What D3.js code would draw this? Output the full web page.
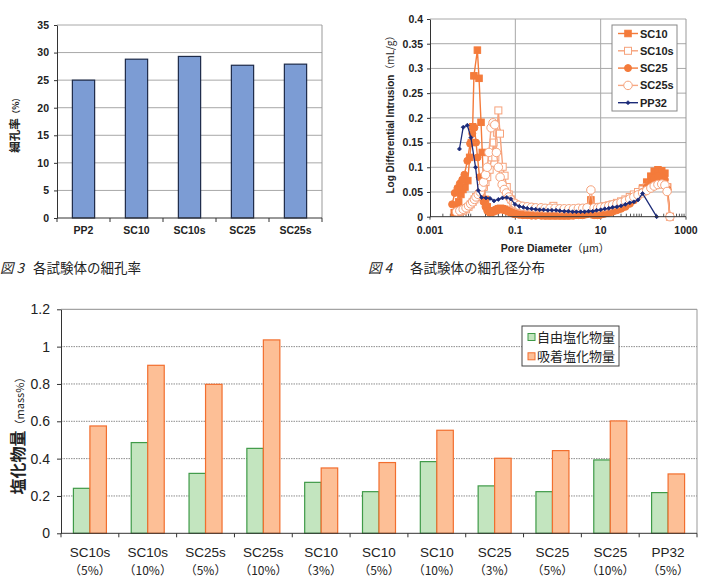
<!DOCTYPE html>
<html><head><meta charset="utf-8">
<script src="https://cdn.jsdelivr.net/npm/d3@7"></script>
<style>
body{margin:0;background:#fff;}
svg{display:block;}
text{font-family:"Liberation Sans","Noto Sans CJK JP",sans-serif;fill:#222;}
.jp{font-family:"Noto Sans CJK JP",sans-serif;}
</style></head><body>
<svg id="c" width="710" height="584"></svg>
<script>
// ---------- Data: Fig.3 porosity ----------
const porCats = ["PP2","SC10","SC10s","SC25","SC25s"];
const porValues = [25.0,28.8,29.3,27.7,27.9];
const porTicks = [0,5,10,15,20,25,30,35];

// ---------- Data: Fig.4 pore size distribution [diameter(um), value] ----------
const psdXTicks = [0.001,0.1,10,1000];
const psdXTickLabels = ["0.001","0.1","10","1000"];
const psdYTicks = [0,0.05,0.1,0.15,0.2,0.25,0.3,0.35,0.4];
const psdNames = ["SC10","SC10s","SC25","SC25s","PP32"];
const sc10 = [[0.0037,0.008],[0.0042,0.02],[0.0047,0.03],[0.0053,0.045],[0.0059,0.055],[0.0066,0.06],[0.0077,0.073],[0.0085,0.12],[0.0093,0.15],[0.01,0.182],[0.0107,0.285],[0.0129,0.337],[0.0141,0.28],[0.0157,0.191],[0.0168,0.13],[0.0183,0.061],[0.02,0.035],[0.022,0.02],[0.025,0.012],[0.028,0.01],[0.032,0.012],[0.036,0.014],[0.04,0.016],[0.045,0.017],[0.05,0.016],[0.056,0.015],[0.063,0.013],[0.071,0.011],[0.08,0.009],[0.09,0.007],[0.1,0.006],[0.12,0.005],[0.15,0.004],[0.19,0.004],[0.24,0.003],[0.3,0.003],[0.4,0.003],[0.5,0.002],[0.65,0.002],[0.85,0.002],[1.1,0.002],[1.4,0.002],[1.8,0.002],[2.3,0.003],[3,0.003],[3.8,0.004],[4.8,0.006],[5.9,0.034],[7,0.004],[8.5,0.003],[10,0.005],[12.5,0.007],[15.5,0.009],[19,0.012],[24,0.015],[30,0.019],[38,0.024],[48,0.03],[60,0.038],[75,0.047],[96,0.058],[120,0.07],[150,0.082],[180,0.092],[220,0.095],[270,0.093],[320,0.088],[370,0.06],[420,0]];
const sc10s = [[0.0045,0.008],[0.005,0.01],[0.006,0.012],[0.007,0.015],[0.008,0.02],[0.009,0.025],[0.01,0.03],[0.011,0.035],[0.012,0.04],[0.014,0.045],[0.016,0.05],[0.018,0.06],[0.02,0.07],[0.022,0.08],[0.025,0.095],[0.028,0.12],[0.031,0.15],[0.034,0.12],[0.037,0.17],[0.04,0.215],[0.0437,0.168],[0.0506,0.101],[0.056,0.083],[0.063,0.06],[0.07,0.045],[0.08,0.035],[0.09,0.028],[0.1,0.025],[0.12,0.022],[0.14,0.02],[0.17,0.019],[0.2,0.018],[0.25,0.017],[0.3,0.017],[0.4,0.016],[0.5,0.016],[0.6,0.017],[0.78,0.022],[0.9,0.016],[1.1,0.015],[1.4,0.015],[1.75,0.015],[2.2,0.015],[2.7,0.016],[3.4,0.016],[4.2,0.017],[5.2,0.018],[6.5,0.018],[8,0.019],[10,0.02],[12.5,0.021],[15.5,0.023],[19,0.025],[24,0.028],[30,0.031],[38,0.035],[48,0.04],[60,0.045],[75,0.05],[96,0.055],[120,0.06],[150,0.065],[190,0.068],[240,0.07],[300,0.068],[360,0.06],[420,0]];
const sc25 = [[0.0033,0.025],[0.0038,0.048],[0.0044,0.058],[0.005,0.067],[0.0057,0.075],[0.0064,0.085],[0.0075,0.113],[0.0087,0.148],[0.0098,0.168],[0.011,0.18],[0.012,0.15],[0.013,0.12],[0.0145,0.08],[0.016,0.05],[0.018,0.03],[0.02,0.02],[0.022,0.012],[0.025,0.008],[0.028,0.009],[0.032,0.011],[0.036,0.013],[0.04,0.014],[0.045,0.015],[0.05,0.014],[0.056,0.013],[0.063,0.012],[0.071,0.01],[0.08,0.008],[0.09,0.006],[0.1,0.005],[0.12,0.004],[0.15,0.003],[0.19,0.003],[0.24,0.002],[0.3,0.002],[0.4,0.002],[0.5,0.002],[0.65,0.002],[0.85,0.002],[1.1,0.002],[1.4,0.002],[1.8,0.002],[2.3,0.002],[3,0.003],[3.8,0.003],[4.8,0.005],[5.9,0.02],[7,0.003],[8.5,0.003],[10,0.004],[12.5,0.006],[15.5,0.008],[19,0.01],[24,0.013],[30,0.016],[38,0.02],[48,0.026],[60,0.033],[75,0.041],[96,0.05],[120,0.06],[150,0.07],[180,0.078],[220,0.082],[270,0.08],[320,0.075],[370,0.055],[420,0]];
const sc25s = [[0.0042,0.01],[0.005,0.012],[0.006,0.015],[0.007,0.018],[0.008,0.022],[0.009,0.026],[0.01,0.03],[0.011,0.035],[0.012,0.04],[0.0135,0.045],[0.015,0.05],[0.0165,0.06],[0.018,0.07],[0.02,0.085],[0.022,0.1],[0.024,0.13],[0.027,0.18],[0.03,0.19],[0.033,0.186],[0.036,0.13],[0.04,0.1],[0.044,0.08],[0.049,0.065],[0.055,0.055],[0.062,0.048],[0.07,0.04],[0.08,0.034],[0.09,0.029],[0.1,0.026],[0.12,0.023],[0.15,0.021],[0.19,0.02],[0.24,0.019],[0.3,0.018],[0.4,0.018],[0.5,0.017],[0.65,0.017],[0.85,0.017],[1.1,0.016],[1.4,0.016],[1.8,0.016],[2.3,0.016],[3,0.017],[3.8,0.017],[4.8,0.018],[5.9,0.054],[7,0.018],[8.5,0.018],[10,0.019],[12.5,0.02],[15.5,0.022],[19,0.024],[24,0.026],[30,0.029],[38,0.032],[48,0.036],[60,0.04],[75,0.044],[96,0.048],[120,0.053],[150,0.058],[180,0.062],[220,0.065],[270,0.066],[320,0.064],[360,0.051],[420,0]];
const pp32 = [[0.0049,0.137],[0.006,0.181],[0.0075,0.185],[0.0091,0.16],[0.0117,0.10],[0.0135,0.053],[0.0162,0.039],[0.0205,0.038],[0.0255,0.037],[0.0316,0.032],[0.04,0.035],[0.05,0.038],[0.063,0.039],[0.078,0.036],[0.098,0.025],[0.124,0.021],[0.154,0.019],[0.19,0.017],[0.24,0.016],[0.3,0.015],[0.37,0.014],[0.46,0.014],[0.58,0.013],[0.72,0.013],[0.9,0.013],[1.1,0.012],[1.4,0.011],[1.75,0.011],[2.2,0.010],[2.7,0.010],[3.4,0.010],[4.2,0.010],[5.2,0.011],[6.5,0.011],[8,0.013],[10,0.014],[12.5,0.016],[15.5,0.017],[19,0.019],[24,0.020],[30,0.022],[38,0.025],[48,0.028],[60,0.030],[75,0.034],[96,0.047],[205,0]];

// ---------- Data: chloride ----------
const chlCats = ["SC10s (5%)","SC10s (10%)","SC25s (5%)","SC25s (10%)","SC10 (3%)","SC10 (5%)","SC10 (10%)","SC25 (3%)","SC25 (5%)","SC25 (10%)","PP32 (5%)"];
const chlLine1 = ["SC10s","SC10s","SC25s","SC25s","SC10","SC10","SC10","SC25","SC25","SC25","PP32"];
const chlLine2 = ["（5%）","（10%）","（5%）","（10%）","（3%）","（5%）","（10%）","（3%）","（5%）","（10%）","（5%）"];
const freeCl = [0.241,0.486,0.321,0.455,0.273,0.223,0.384,0.254,0.223,0.393,0.218];
const boundCl = [0.575,0.900,0.798,1.036,0.350,0.379,0.552,0.402,0.443,0.602,0.318];
const chlTicks = [0,0.2,0.4,0.6,0.8,1,1.2];
const chlTickLabels = ["0","0.2","0.4","0.6","0.8","1","1.2"];
const chlSeries = ["自由塩化物量","吸着塩化物量"];

const svg = d3.select("#c");

// ================= Fig 3 =================
(function(){
  const L=57,R=322,T=25,B=218;
  const x = d3.scaleBand().domain(porCats).range([L,R]);
  const y = d3.scaleLinear().domain([0,35]).range([B,T]);
  const g = svg.append("g");
  g.selectAll("line.grid").data(porTicks.filter(d=>d>0)).join("line")
    .attr("x1",L).attr("x2",R).attr("y1",d=>y(d)).attr("y2",d=>y(d))
    .attr("stroke","#a8a8a8").attr("stroke-width",1);
  g.append("line").attr("x1",R).attr("x2",R).attr("y1",T).attr("y2",B).attr("stroke","#999");
  const bw = x.step()*0.42;
  g.selectAll("rect.bar").data(porCats).join("rect")
    .attr("x",d=>x(d)+x.bandwidth()/2-bw/2).attr("width",bw)
    .attr("y",(d,i)=>y(porValues[i])).attr("height",(d,i)=>B-y(porValues[i]))
    .attr("fill","#7c9cd4").attr("stroke","#1d2a48").attr("stroke-width",1.2);
  const ay = g.append("g").attr("transform",`translate(${L},0)`)
    .call(d3.axisLeft(y).tickValues(porTicks).tickSize(3).tickSizeOuter(0).tickPadding(5));
  ay.select(".domain").attr("stroke","#333");
  ay.selectAll(".tick line").attr("stroke","#333");
  ay.selectAll("text").attr("font-size",10.5).attr("font-weight","bold").attr("fill","#222");
  g.append("line").attr("x1",L).attr("x2",R).attr("y1",B).attr("y2",B).attr("stroke","#333");
  const bounds = porCats.map(d=>x(d)).concat([R]);
  g.selectAll("line.xt").data(bounds).join("line")
    .attr("x1",d=>d).attr("x2",d=>d).attr("y1",B).attr("y2",B+4).attr("stroke","#333");
  g.selectAll("text.xl").data(porCats).join("text")
    .attr("x",d=>x(d)+x.bandwidth()/2).attr("y",234).attr("text-anchor","middle")
    .attr("font-size",10.5).attr("font-weight","bold").text(d=>d);
  const t = g.append("text").attr("class","jp").attr("transform","translate(19,123) rotate(-90)")
    .attr("text-anchor","middle").attr("font-weight","bold");
  t.append("tspan").attr("font-size",11.5).text("細孔率");
  t.append("tspan").attr("font-size",8.5).text("（%）");
  const c = svg.append("text").attr("class","jp").attr("x",0).attr("y",273).attr("font-size",13.5);
  c.append("tspan").attr("font-style","italic").text("図 3");
  c.append("tspan").attr("x",33).text("各試験体の細孔率");
})();

// ================= Fig 4 =================
(function(){
  const L=430,R=686,T=19,B=216.7;
  const x = d3.scaleLog().domain([0.001,1000]).range([L,R]);
  const y = d3.scaleLinear().domain([0,0.4]).range([B,T]);
  const g = svg.append("g");
  g.selectAll("line.gy").data(psdYTicks.filter(d=>d>0)).join("line")
    .attr("x1",L).attr("x2",R).attr("y1",d=>y(d)).attr("y2",d=>y(d)).attr("stroke","#a8a8a8");
  g.selectAll("line.gx").data([0.1,10]).join("line")
    .attr("x1",d=>x(d)).attr("x2",d=>x(d)).attr("y1",T).attr("y2",B).attr("stroke","#a8a8a8");
  g.append("line").attr("x1",R).attr("x2",R).attr("y1",T).attr("y2",B).attr("stroke","#999");
  // minor ticks
  const minor = [];
  for (const dec of [0.001,0.01,0.1,1,10,100]) for (let k=2;k<=9;k++) minor.push(dec*k);
  g.selectAll("line.mt").data(minor).join("line")
    .attr("x1",d=>x(d)).attr("x2",d=>x(d)).attr("y1",B).attr("y2",B-3).attr("stroke","#555");
  g.selectAll("line.Mt").data(psdXTicks).join("line")
    .attr("x1",d=>x(d)).attr("x2",d=>x(d)).attr("y1",B).attr("y2",B+3).attr("stroke","#444");

  const styles = {
    SC10:{data:sc10,line:"#f47b3b",shape:"square",fill:"#f47b3b",stroke:"#f47b3b",size:6.5},
    SC10s:{data:sc10s,line:"#f6a27b",shape:"square",fill:"#fff",stroke:"#f6a27b",size:7},
    SC25:{data:sc25,line:"#f47b3b",shape:"circle",fill:"#f47b3b",stroke:"#f47b3b",size:7},
    SC25s:{data:sc25s,line:"#f7a884",shape:"circle",fill:"#fff",stroke:"#f6a27b",size:8.5},
    PP32:{data:pp32,line:"#1b2a78",shape:"diamond",fill:"#1b2a78",stroke:"#1b2a78",size:4}
  };
  const line = d3.line().x(d=>x(d[0])).y(d=>y(d[1]));
  function marker(sel,st){
    if(st.shape==="square"){
      sel.append("rect").attr("x",-st.size/2).attr("y",-st.size/2).attr("width",st.size).attr("height",st.size)
        .attr("fill",st.fill).attr("stroke",st.stroke).attr("stroke-width",1);
    } else if(st.shape==="circle"){
      sel.append("circle").attr("r",st.size/2).attr("fill",st.fill).attr("stroke",st.stroke).attr("stroke-width",1);
    } else {
      const s=st.size/2;
      sel.append("path").attr("d",`M0,${-s}L${s},0L0,${s}L${-s},0Z`).attr("fill",st.fill).attr("stroke",st.stroke).attr("stroke-width",0.8);
    }
  }
  psdNames.forEach(n=>{
    const st = styles[n];
    g.append("path").datum(st.data).attr("d",line).attr("fill","none")
      .attr("stroke",st.line).attr("stroke-width",n==="PP32"?1.3:1.4);
    g.selectAll(null).data(st.data).join("g")
      .attr("transform",d=>`translate(${x(d[0])},${y(d[1])})`)
      .each(function(){ marker(d3.select(this),st); });
  });
  g.append("line").attr("x1",L).attr("x2",R).attr("y1",B).attr("y2",B).attr("stroke","#333");
  const ay = g.append("g").attr("transform",`translate(${L},0)`)
    .call(d3.axisLeft(y).tickValues(psdYTicks).tickSize(3).tickSizeOuter(0).tickPadding(4).tickFormat(d=>String(+d.toFixed(2))));
  ay.select(".domain").attr("stroke","#333");
  ay.selectAll(".tick line").attr("stroke","#333");
  ay.selectAll("text").attr("font-size",10.5).attr("font-weight","bold").attr("fill","#222");
  g.selectAll("text.xl").data(psdXTicks).join("text")
    .attr("x",d=>x(d)).attr("y",234).attr("text-anchor","middle").attr("font-size",10.5).attr("font-weight","bold")
    .text((d,i)=>psdXTickLabels[i]);
  const xt = g.append("text").attr("x",555).attr("y",252).attr("text-anchor","middle").attr("font-size",10.5).attr("font-weight","bold");
  xt.append("tspan").text("Pore Diameter");
  xt.append("tspan").attr("class","jp").attr("font-weight","normal").text("（μm）");
  const yt = g.append("text").attr("transform","translate(394,112) rotate(-90)").attr("text-anchor","middle").attr("font-size",10).attr("font-weight","bold");
  yt.append("tspan").text("Log Differential Intrusion");
  yt.append("tspan").attr("class","jp").attr("font-weight","normal").text("（mL/g）");
  // legend
  const lg = g.append("g");
  lg.append("rect").attr("x",612).attr("y",25).attr("width",65).attr("height",86).attr("fill","#fff").attr("stroke","#888");
  psdNames.forEach((n,i)=>{
    const st=styles[n]; const yy=33.5+i*17.3;
    lg.append("line").attr("x1",618).attr("x2",638).attr("y1",yy).attr("y2",yy).attr("stroke",st.line).attr("stroke-width",1.4);
    marker(lg.append("g").attr("transform",`translate(628,${yy})`),st);
    lg.append("text").attr("x",640).attr("y",yy+4).attr("font-size",11).attr("font-weight","bold").text(n);
  });
  const c = svg.append("text").attr("class","jp").attr("x",368).attr("y",273).attr("font-size",13.5);
  c.append("tspan").attr("font-style","italic").text("図 4");
  c.append("tspan").attr("x",410).text("各試験体の細孔径分布");
})();

// ================= Fig 5 chloride =================
(function(){
  const L=61,R=697,T=309.3,B=533.3;
  const x = d3.scaleBand().domain(chlCats).range([L,R]);
  const y = d3.scaleLinear().domain([0,1.2]).range([B,T]);
  const g = svg.append("g");
  g.selectAll("line.grid").data(chlTicks.filter(d=>d>0)).join("line")
    .attr("x1",L).attr("x2",R).attr("y1",d=>y(d)).attr("y2",d=>y(d))
    .attr("stroke","#8c8c8c").attr("stroke-dasharray",d=>d===1.2?null:"1.5,1").attr("stroke-width",1);
  g.append("line").attr("x1",R).attr("x2",R).attr("y1",T).attr("y2",B).attr("stroke","#999");
  const bw = 16.5;
  const cx = d=>x(d)+x.bandwidth()/2;
  g.selectAll("rect.f").data(chlCats).join("rect")
    .attr("x",d=>cx(d)-bw).attr("width",bw)
    .attr("y",(d,i)=>y(freeCl[i])).attr("height",(d,i)=>B-y(freeCl[i]))
    .attr("fill","#c3e5bf").attr("stroke","#3f9a48").attr("stroke-width",1.2);
  g.selectAll("rect.b").data(chlCats).join("rect")
    .attr("x",d=>cx(d)).attr("width",bw)
    .attr("y",(d,i)=>y(boundCl[i])).attr("height",(d,i)=>B-y(boundCl[i]))
    .attr("fill","#fdbf96").attr("stroke","#f26e2e").attr("stroke-width",1.2);
  const ay = g.append("g").attr("transform",`translate(${L},0)`)
    .call(d3.axisLeft(y).tickValues(chlTicks).tickSize(4).tickSizeOuter(0).tickPadding(7).tickFormat((d,i)=>chlTickLabels[i]));
  ay.select(".domain").attr("stroke","#333");
  ay.selectAll(".tick line").attr("stroke","#333");
  ay.selectAll("text").attr("font-size",14).attr("fill","#222");
  g.append("line").attr("x1",L).attr("x2",R).attr("y1",B).attr("y2",B).attr("stroke","#333");
  const bounds = chlCats.map(d=>x(d)).concat([R]);
  g.selectAll("line.xt").data(bounds).join("line")
    .attr("x1",d=>d).attr("x2",d=>d).attr("y1",B).attr("y2",B+4).attr("stroke","#333");
  g.selectAll("text.l1").data(chlCats).join("text")
    .attr("x",cx).attr("y",557).attr("text-anchor","middle").attr("font-size",13.5).text((d,i)=>chlLine1[i]);
  g.selectAll("text.l2").data(chlCats).join("text").attr("class","jp")
    .attr("x",cx).attr("y",575).attr("text-anchor","middle").attr("font-size",12).text((d,i)=>chlLine2[i]);
  const t = g.append("text").attr("class","jp").attr("transform","translate(24,433) rotate(-90)").attr("text-anchor","middle");
  t.append("tspan").attr("font-size",16).attr("font-weight","bold").text("塩化物量");
  t.append("tspan").attr("font-size",11).text("（mass%）");
  // legend
  const lg = g.append("g");
  lg.append("rect").attr("x",522).attr("y",326).attr("width",97).attr("height",40).attr("fill","#fff").attr("stroke","#444");
  const cols=[["#c3e5bf","#3f9a48"],["#fdbf96","#f26e2e"]];
  chlSeries.forEach((s,i)=>{
    const yy = 337+i*19.3;
    lg.append("rect").attr("x",528).attr("y",yy-3.5).attr("width",7).attr("height",7).attr("fill",cols[i][0]).attr("stroke",cols[i][1]);
    lg.append("text").attr("class","jp").attr("x",537).attr("y",yy+5).attr("font-size",13).text(s);
  });
})();
</script>
</body></html>
